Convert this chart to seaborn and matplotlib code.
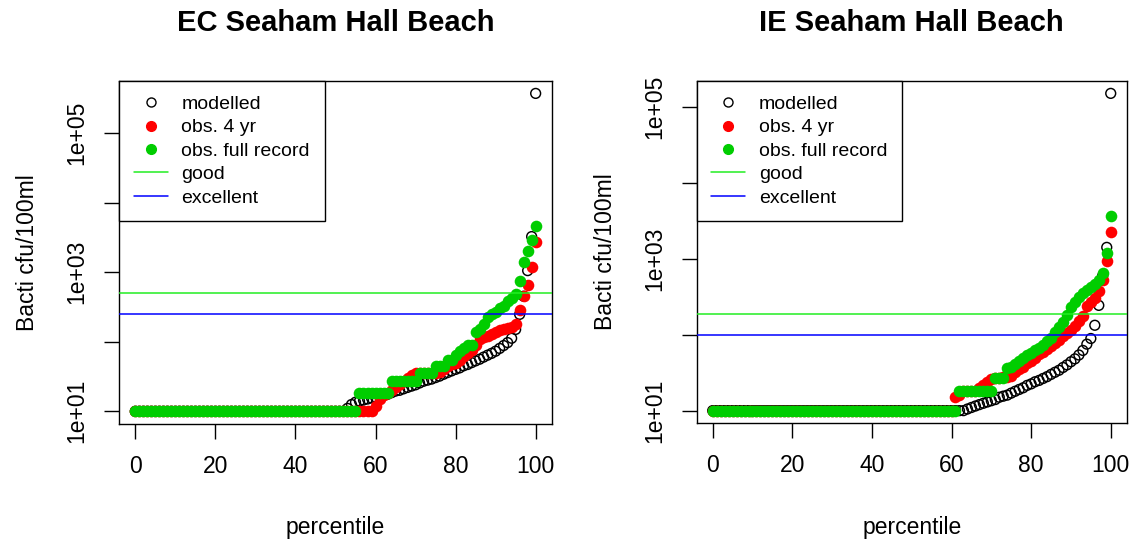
import numpy as np
import pandas as pd
import seaborn as sns
import matplotlib
matplotlib.use("Agg")
import matplotlib.pyplot as plt
from matplotlib.lines import Line2D
from matplotlib.ticker import NullLocator

# percentile positions (0..100) and sorted values
percentile = list(range(101))

ec_modelled = ([10] * 53 +
               [11, 12.5, 13.5, 14, 14.5, 15, 15.5,
                16, 16.5, 17, 17.5, 18.5, 19.5, 20, 21, 22, 23,
                24, 25.5, 27, 28, 29, 30.5, 32, 34, 36, 38,
                40, 42, 45, 47, 50, 53, 56, 60, 64, 68,
                73, 80, 88, 97, 112, 150, 247, 450, 1050, 3240,
                370000])
ec_obs4 = ([10] * 60 +
           [12, 15, 17, 18, 20, 22, 25, 27, 30, 33,
            35, 36, 36, 36, 36, 36, 37, 40, 44, 47,
            50, 55, 62, 68, 75, 90, 110, 118, 120, 130,
            140, 145, 150, 158, 165, 180, 285, 450, 660, 1200,
            2750])
ec_full = ([10] * 56 + [18] * 8 + [27] * 7 + [36] * 4 + [45] * 3 + [55] * 2 +
           [64, 73, 82, 91, 91, 136, 150, 180, 230, 250,
            270, 300, 330, 380, 420, 490, 740, 1400, 2000, 2850,
            4600])

ie_modelled = ([10] * 64 +
               [10.5, 11, 11.5, 12, 12.5, 13,
                13.5, 14, 15, 15.5, 16, 17, 18, 19, 20, 21.5,
                22.5, 24, 25, 26.5, 28, 30, 32, 34, 37, 40,
                44, 48, 54, 62, 75, 89, 133, 243, 600, 1410,
                150000])
ie_obs4 = ([10] * 61 +
           [15, 16, 18, 18, 18, 18, 20, 22, 24,
            26, 27, 27, 28, 28, 29, 32, 35, 38, 42,
            45, 50, 55, 60, 65, 72, 78, 85, 95, 105,
            115, 130, 150, 175, 235, 270, 300, 380, 520, 945,
            2240])
ie_full = ([10] * 62 + [18] * 9 + [27] * 3 +
           [36, 38, 41, 45, 50, 54,
            58, 62, 67, 73, 82, 91, 110, 127, 145, 180,
            230, 270, 310, 350, 390, 420, 460, 520, 650, 1200,
            3700])

ec_good, ec_excellent = 500, 250
ie_good, ie_excellent = 185, 100

sns.set_style("white")
plt.rcParams['font.family'] = ['Liberation Sans', 'DejaVu Sans']
plt.rcParams['text.color'] = 'black'
plt.rcParams['axes.labelcolor'] = 'black'
plt.rcParams['xtick.color'] = 'black'
plt.rcParams['ytick.color'] = 'black'

RED = '#FF0000'
GREEN = '#00CD00'
LINE_GREEN = '#22EE22'
BLUE = '#0000FF'
FS = 16.5

fig = plt.figure(figsize=(11.37, 5.43), dpi=100)
ax1 = fig.add_axes([0.1049, 0.2192, 0.3803, 0.6322])
ax2 = fig.add_axes([0.6128, 0.2204, 0.3781, 0.6310])


def panel(ax, title, modelled, obs4, full, good, excellent):
    df = pd.DataFrame({'percentile': percentile, 'modelled': modelled,
                       'obs4': obs4, 'full': full})
    sns.scatterplot(data=df, x='percentile', y='modelled', ax=ax, s=50,
                    facecolors='none', edgecolors='black', linewidth=1.05,
                    zorder=2)
    sns.scatterplot(data=df, x='percentile', y='obs4', ax=ax, s=70,
                    color=RED, linewidth=0, zorder=3)
    sns.scatterplot(data=df, x='percentile', y='full', ax=ax, s=70,
                    color=GREEN, linewidth=0, zorder=4)
    ax.axhline(good, color=LINE_GREEN, lw=1.1, zorder=5)
    ax.axhline(excellent, color=BLUE, lw=1.1, zorder=5)

    ax.set_yscale('log')
    lo = np.log10(min(min(modelled), min(obs4), min(full)))
    hi = np.log10(max(max(modelled), max(obs4), max(full)))
    d = hi - lo
    ax.set_ylim(10 ** (lo - 0.04 * d), 10 ** (hi + 0.04 * d))
    ax.set_xlim(-4, 104)

    ax.set_xticks([0, 20, 40, 60, 80, 100])
    ax.set_yticks([10, 100, 1000, 10000, 100000])
    ax.set_yticklabels(['1e+01', '', '1e+03', '', '1e+05'],
                       rotation=90, va='center')
    ax.yaxis.set_minor_locator(NullLocator())
    ax.tick_params(axis='both', direction='out', length=11, width=1.0,
                   color='black', labelsize=FS, pad=11, left=True, bottom=True)
    for sp in ax.spines.values():
        sp.set_visible(True)
        sp.set_color('black')
        sp.set_linewidth(1.0)

    ax.set_xlabel('percentile', fontsize=FS, labelpad=28)
    ax.set_ylabel('Bacti cfu/100ml', fontsize=FS, labelpad=19)
    ax.set_title(title, fontsize=21, fontweight='bold', pad=36)

    handles = [
        Line2D([], [], ls='none', marker='o', mfc='none', mec='black',
               ms=6.5, mew=1.0),
        Line2D([], [], ls='none', marker='o', color=RED, ms=7),
        Line2D([], [], ls='none', marker='o', color=GREEN, ms=7),
        Line2D([], [], color=LINE_GREEN, lw=1.1),
        Line2D([], [], color=BLUE, lw=1.1),
    ]
    labels = ['modelled', 'obs. 4 yr', 'obs. full record', 'good', 'excellent']
    leg = ax.legend(handles, labels, loc='upper left', bbox_to_anchor=(0, 1),
                    borderaxespad=0, fancybox=False, edgecolor='black',
                    framealpha=1, fontsize=14, handlelength=1.75,
                    handletextpad=0.7, labelspacing=0.3, borderpad=0.75)
    leg.get_frame().set_linewidth(1.0)
    leg.set_zorder(10)


panel(ax1, 'EC Seaham Hall Beach', ec_modelled, ec_obs4, ec_full,
      ec_good, ec_excellent)
panel(ax2, 'IE Seaham Hall Beach', ie_modelled, ie_obs4, ie_full,
      ie_good, ie_excellent)

fig.savefig('out.png', dpi=100)
